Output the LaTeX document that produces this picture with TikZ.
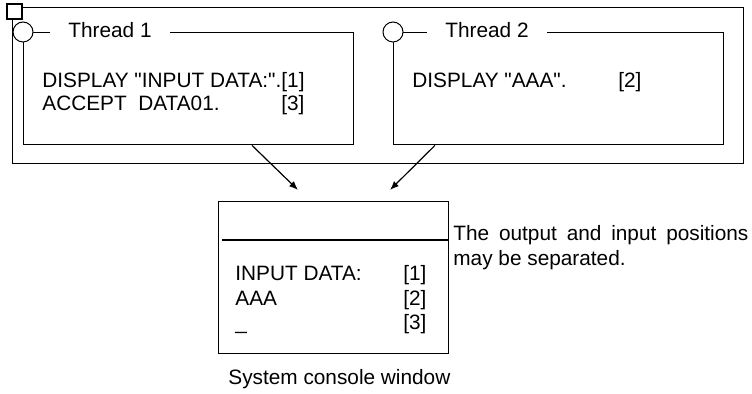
\documentclass[tikz,border=0pt]{standalone}
\usepackage{fontspec}
\setmainfont{Liberation Sans}[Ligatures=TeXOff]
\usetikzlibrary{arrows.meta}

\begin{document}
\begin{tikzpicture}[
		x=0.5pt, y=-0.5pt,
		font=\fontsize{10.4}{12.25}\selectfont,
		frame/.style={
			draw,
			line width=0.7pt,
			inner sep=0pt,
			anchor=north west
		},
		threadbox/.style={frame, minimum width=165pt, minimum height=56pt},
		knob/.style={draw, circle, fill=white, minimum size=10pt, inner sep=0pt, line width=0.5pt},
		tag/.style={fill=white, inner xsep=9pt, inner ysep=1pt, anchor=west},
		txt/.style={inner sep=0pt, anchor=base west},
		arrow/.style={-{Latex[length=4.5pt, width=3.5pt]}, line width=0.6pt}
		]
		
		\useasboundingbox (0,0) rectangle (752,394);
		
		% process frame
		\node[frame, minimum width=365.5pt, minimum height=78pt] (process) at (12,7) {};
		\node[draw, fill=white, minimum size=7.5pt, inner sep=0pt, line width=0.6pt] (corner) at (14.5,11.5) {};
		
		% threads
		\node[threadbox] (thread1) at (23,32) {};
		\node[knob] (knob1) at (thread1.north west) {};
		\node[tag] (label1) at (50,30) {Thread 1};
		\node[txt, font=\fontsize{10.4}{11.5}\selectfont] (code1) at (42,88)
		{\begin{tabular}[t]{@{}l@{}r@{}}
				DISPLAY "INPUT DATA:".&[1]\\
				ACCEPT\ \ DATA01.&[3]
		\end{tabular}};
		
		\node[threadbox] (thread2) at (393,32) {};
		\node[knob] (knob2) at (thread2.north west) {};
		\node[tag] (label2) at (427,30) {Thread 2};
		\node[txt] (code2) at (412,88) {DISPLAY "AAA".};
		\node[txt] (tag2) at (618,88) {[2]};
		
		% console window
		\node[frame, minimum width=115pt, minimum height=76pt] (console) at (218,201) {};
		\coordinate (sep) at (222,240);
		\draw[line width=0.7pt] (sep) -- (sep -| console.east);
		\node[txt] (screen) at (235,281)
		{\begin{tabular}[t]{@{}p{84pt}@{}l@{}}
				INPUT DATA:&[1]\\
				AAA&[2]\\
				\_&[3]
		\end{tabular}};
		\node[txt] (caption) at (228,385) {System console window};
		
		\node[txt] (note) at (453,241)
		{\begin{tabular}[t]{@{}l@{}}
				\makebox[147.5pt][s]{The output and input positions}\\
				may be separated.
		\end{tabular}};
		
		\coordinate (in1) at (298,190);
		\coordinate (in2) at (390,190);
		\draw[arrow] ([xshift=114.5pt]thread1.south west) -- (in1);
		\draw[arrow] ([xshift=21pt]thread2.south west) -- (in2);
		
	\end{tikzpicture}
\end{document}
